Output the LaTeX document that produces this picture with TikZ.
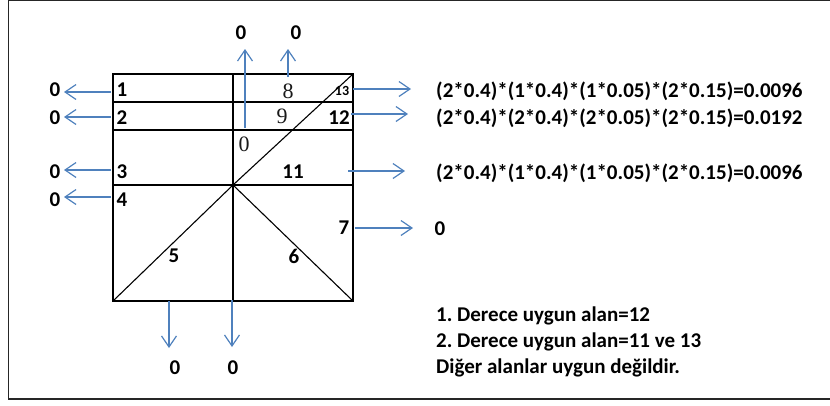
\documentclass[tikz,border=0pt]{standalone}
\usepackage{fontspec}
\setmainfont{Carlito}
\newfontfamily\cellserif{Liberation Serif}
\usepackage{xcolor}
\usetikzlibrary{arrows.meta}
\definecolor{flowBlue}{HTML}{4F81BD}
\frenchspacing
\tikzset{
  grid-line/.style={draw=black, line width=1.9pt},
  diag-line/.style={draw=black, line width=1.1pt},
  frame-line/.style={draw=black!85, line width=1.4pt},
  flow/.style={-{Straight Barb[length=11pt,width=15pt,line width=1.2pt]}, line width=1.2pt, draw=flowBlue},
  lbl/.style={font=\fontsize{21}{24}\selectfont\bfseries, inner sep=0pt},
  lbl-small/.style={font=\fontsize{14}{16}\selectfont\bfseries, inner sep=0pt},
  cell/.style={font=\fontsize{22}{24}\selectfont\cellserif, text=black!90, inner sep=0pt},
  formula/.style={font=\fontsize{21}{24}\selectfont\bfseries, inner sep=0pt, anchor=west},
  note/.style={font=\fontsize{21}{24}\selectfont\bfseries, inner sep=0pt, anchor=west},
}
\begin{document}
\begin{tikzpicture}[x=1pt, y=-1pt]
  \useasboundingbox (0,0) rectangle (830,405);
  \draw[frame-line] (830,0.7)--(8.5,0.7)--(8.5,399)--(830,399);

  % grid
  \coordinate (tl) at (113,74);
  \coordinate (tm) at (233,74);
  \coordinate (tr) at (353,74);
  \coordinate (cm) at (233,185);
  \coordinate (bl) at (113,301);
  \coordinate (bm) at (233,301);
  \coordinate (br) at (353,301);
  \draw[grid-line] (tl) rectangle (br);
  \draw[grid-line] (tm)--(bm);
  \draw[grid-line] (113,102)--(353,102);
  \draw[grid-line] (113,130)--(353,130);
  \draw[grid-line] (113,185)--(353,185);
  \draw[diag-line] (cm)--(tr);
  \draw[diag-line] (cm)--(bl);
  \draw[diag-line] (cm)--(br);

  % region numbers
  \node[lbl] (r1) at (122,90){1};
  \node[lbl] (r2) at (122,118){2};
  \node[lbl] (r3) at (122,172){3};
  \node[lbl] (r4) at (122,200){4};
  \node[lbl] (r5) at (174,256){5};
  \node[lbl] (r6) at (294,256){6};
  \node[lbl] (r7) at (344,228){7};
  \node[cell] (r8) at (288,91){8};
  \node[cell] (r9) at (282,116){9};
  \node[cell] (r10) at (244,144){0};
  \node[lbl] (r11) at (293,172){11};
  \node[lbl] (r12) at (339,118){12};
  \node[lbl-small] (r13) at (342,91){13};

  % results
  \node[lbl] (zl1) at (55,90){0};
  \node[lbl] (zl2) at (55,118){0};
  \node[lbl] (zl3) at (55,172){0};
  \node[lbl] (zl4) at (55,200){0};
  \node[lbl] (zt1) at (241,33){0};
  \node[lbl] (zt2) at (296,33){0};
  \node[lbl] (zb1) at (175,368){0};
  \node[lbl] (zb2) at (233,368){0};
  \node[lbl] (zr7) at (440,229){0};
  \node[formula] (f13) at (436,91){(2*0.4)*(1*0.4)*(1*0.05)*(2*0.15)=0.0096};
  \node[formula] (f12) at (436,118){(2*0.4)*(2*0.4)*(2*0.05)*(2*0.15)=0.0192};
  \node[formula] (f11) at (436,173){(2*0.4)*(1*0.4)*(1*0.05)*(2*0.15)=0.0096};

  % arrow starts
  \coordinate (a1) at (111,92);
  \coordinate (a2) at (111,117);
  \coordinate (a3) at (111,170);
  \coordinate (a4) at (111,197);
  \coordinate (a10) at (245,128);
  \coordinate (a8) at (288,77);
  \coordinate (a13) at (353,89);
  \coordinate (a12) at (351,114);
  \coordinate (a11) at (348,171);
  \coordinate (a7) at (355,228);
  \coordinate (a5) at (169,301);
  \coordinate (a6) at (232,300);

  \draw[flow] (a1)--(64,92);
  \draw[flow] (a2)--(64,117);
  \draw[flow] (a3)--(64,170);
  \draw[flow] (a4)--(64,197);
  \draw[flow] (a10)--(245,49);
  \draw[flow] (a8)--(288,49);
  \draw[flow] (a13)--(411,89);
  \draw[flow] (a12)--(408,114);
  \draw[flow] (a11)--(405,171);
  \draw[flow] (a7)--(413,228);
  \draw[flow] (a5)--(169,348);
  \draw[flow] (a6)--(232,347);

  \node[note] (n1) at (436,316){1. Derece uygun alan=12};
  \node[note] (n2) at (436,342){2. Derece uygun alan=11 ve 13};
  \node[note] (n3) at (436,368){Diğer alanlar uygun değildir.};
\end{tikzpicture}
\end{document}
